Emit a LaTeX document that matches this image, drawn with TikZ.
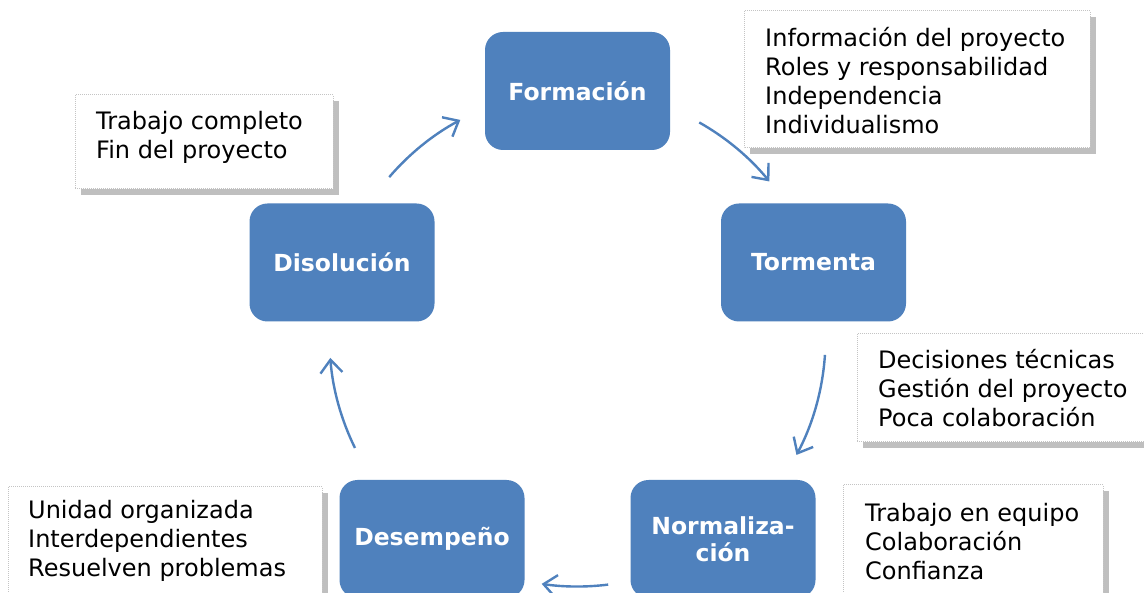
\documentclass[tikz,border=0pt]{standalone}
\usepackage{fontspec}
\setmainfont{DejaVu Sans}
\usetikzlibrary{arrows.meta,calc}
\definecolor{nodeblue}{HTML}{4F81BD}
\definecolor{shadowgray}{HTML}{BFBFBF}
\definecolor{dotgray}{HTML}{C4C4C4}
\newcommand\mynotebox[4]{%
  \fill[shadowgray] (#1+6,#2+6) rectangle (#3+6,#4+6);
  \fill[white] (#1,#2) rectangle (#3,#4);
  \draw[dotgray,densely dotted,line width=1pt] (#1,#2) rectangle (#3,#4);
}
\begin{document}
\begin{tikzpicture}[x=1pt,y=-1pt,
  stage/.style={rectangle,rounded corners=18pt,fill=nodeblue,text=white,
    font=\fontsize{23.5}{27}\selectfont\bfseries,minimum width=185pt,
    minimum height=118pt,align=center,inner sep=0pt},
  note/.style={anchor=west,align=left,inner sep=0pt,
    font=\fontsize{24}{29}\selectfont},
  cyc/.style={draw=nodeblue,line width=2.4pt,
    -{Straight Barb[length=13pt,width=22pt,line width=2.4pt]}}
]
\useasboundingbox (0,0) rectangle (1144,593);
\fill[white] (0,0) rectangle (1144,593);

% note boxes
\mynotebox{744}{11}{1090}{148}
\mynotebox{75}{95}{333}{189}
\mynotebox{857}{334}{1160}{442}
\mynotebox{843}{485}{1103}{610}
\mynotebox{8}{487}{322}{610}

\node[note] (n1) at (765,80.5) {Información del proyecto\\Roles y responsabilidad\\Independencia\\Individualismo};
\node[note] (n2) at (96,137.5) {Trabajo completo\\Fin del proyecto};
\node[note] (n3) at (878,388.5) {Decisiones técnicas\\Gestión del proyecto\\Poca colaboración};
\node[note] (n4) at (865,542) {Trabajo en equipo\\Colaboración\\Confianza};
\node[note] (n5) at (28,541) {Unidad organizada\\Interdependientes\\Resuelven problemas};

% stages
\node[stage] (form) at (577.5,91) {Formación};
\node[stage] (torm) at (813.5,262.5) {Tormenta};
\node[stage] (norm) at (723,539) {Normaliza-\\ción};
\node[stage] (dese) at (432,539) {Desempeño};
\node[stage] (diso) at (342,262.5) {Disolución};

% cycle arrows
\coordinate (c) at (577.5,338.5);
\draw[cyc] ($(c)+(-60.6:248)$) arc[start angle=-60.6,end angle=-39.3,radius=248];
\draw[cyc] ($(c)+(3.8:248)$) arc[start angle=3.8,end angle=28,radius=248];
\draw[cyc] ($(c)+(82.9:248)$) arc[start angle=82.9,end angle=98.3,radius=248];
\draw[cyc] ($(c)+(153.8:248)$) arc[start angle=153.8,end angle=175.5,radius=248];
\draw[cyc] ($(c)+(220.6:248)$) arc[start angle=220.6,end angle=241.8,radius=248];
\end{tikzpicture}
\end{document}
